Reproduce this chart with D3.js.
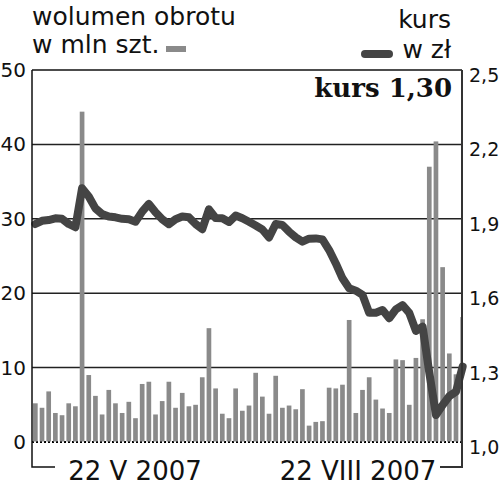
<!DOCTYPE html>
<html><head><meta charset="utf-8">
<script src="https://cdn.jsdelivr.net/npm/d3@7"></script>
<style>html,body{margin:0;padding:0;background:#fff}svg{display:block}</style>
</head><body>
<svg id="c" width="500" height="487"></svg>
<script>
// trading days 22 V 2007 – 22 VIII 2007
const days = [
 "2007-05-22","2007-05-23","2007-05-24","2007-05-25","2007-05-28","2007-05-29","2007-05-30","2007-05-31",
 "2007-06-01","2007-06-04","2007-06-05","2007-06-06","2007-06-08","2007-06-11","2007-06-12","2007-06-13",
 "2007-06-14","2007-06-15","2007-06-18","2007-06-19","2007-06-20","2007-06-21","2007-06-22","2007-06-25",
 "2007-06-26","2007-06-27","2007-06-28","2007-06-29","2007-07-02","2007-07-03","2007-07-04","2007-07-05",
 "2007-07-06","2007-07-09","2007-07-10","2007-07-11","2007-07-12","2007-07-13","2007-07-16","2007-07-17",
 "2007-07-18","2007-07-19","2007-07-20","2007-07-23","2007-07-24","2007-07-25","2007-07-26","2007-07-27",
 "2007-07-30","2007-07-31","2007-08-01","2007-08-02","2007-08-03","2007-08-06","2007-08-07","2007-08-08",
 "2007-08-09","2007-08-10","2007-08-13","2007-08-14","2007-08-16","2007-08-17","2007-08-20","2007-08-21",
 "2007-08-22"];
// volume, mln shares
const volume = [
 5.2,4.6,6.8,3.9,3.6,5.2,4.8,44.4,9.0,6.2,3.7,7.0,5.2,3.9,5.4,3.2,
 7.8,8.1,3.7,5.5,8.1,4.6,6.6,4.8,5.0,8.7,15.3,7.2,3.8,3.2,7.2,4.2,
 4.9,9.3,6.1,3.8,8.9,4.6,4.9,4.4,7.1,2.2,2.7,2.8,7.3,7.2,7.7,16.4,
 3.9,7.0,8.7,5.7,4.5,3.9,11.1,11.0,5.0,11.3,16.5,37.0,40.4,23.5,11.9,9.1,
 16.8];
// price, zl
const price = [
 1.879,1.892,1.895,1.902,1.900,1.879,1.866,2.023,1.990,1.942,1.919,1.909,1.906,1.900,1.898,1.888,
 1.929,1.960,1.926,1.898,1.878,1.898,1.909,1.906,1.879,1.858,1.938,1.903,1.902,1.887,1.913,1.902,
 1.888,1.873,1.857,1.825,1.879,1.875,1.848,1.825,1.808,1.820,1.821,1.817,1.774,1.720,1.660,1.620,
 1.610,1.593,1.521,1.521,1.532,1.499,1.535,1.552,1.521,1.448,1.465,1.280,1.109,1.149,1.185,1.203,
 1.304];
const volTicks = [0,10,20,30,40,50];
const priceTicks = [1.0,1.3,1.6,1.9,2.2,2.5];
const dateLabels = ["22 V 2007","22 VIII 2007"];

const svg = d3.select("#c");
const L = 32, R = 462, T = 70, B = 442;
const font = "'DejaVu Sans', sans-serif";

const x = d3.scaleBand().domain(days).range([L, 466]).paddingInner(0.3).paddingOuter(0.15);
const yV = d3.scaleLinear().domain([0, 50]).range([B, T]);
const yP = d3.scaleLinear().domain([1.0, 2.5]).range([B, T]);

svg.append("defs").append("clipPath").attr("id","clip")
  .append("rect").attr("x", L).attr("y", 0).attr("width", R - L).attr("height", B + 2);

// gridlines
svg.append("g").selectAll("line").data(volTicks.slice(1, -1)).join("line")
  .attr("x1", L).attr("x2", R).attr("y1", d => yV(d)).attr("y2", d => yV(d))
  .attr("stroke", "#222").attr("stroke-width", 1.5);

// baseline
svg.append("line").attr("x1", L).attr("x2", R).attr("y1", B).attr("y2", B)
  .attr("stroke", "#000").attr("stroke-width", 2).attr("stroke-dasharray", "2,2");

// bars
svg.append("g").attr("clip-path", "url(#clip)").selectAll("rect").data(volume).join("rect")
  .attr("x", (d, i) => x(days[i])).attr("width", x.bandwidth())
  .attr("y", d => yV(d)).attr("height", d => B - yV(d) - 0.5)
  .attr("fill", "#8a8a8a");

// price line
const line = d3.line().x((d, i) => x(days[i]) + x.bandwidth() / 2).y(d => yP(d));
svg.append("path").datum(price).attr("d", line)
  .attr("fill", "none").attr("stroke", "#444").attr("stroke-width", 8)
  .attr("stroke-linejoin", "round").attr("stroke-linecap", "round");

// frame
svg.append("line").attr("x1", L).attr("x2", R).attr("y1", T).attr("y2", T).attr("stroke", "#111").attr("stroke-width", 1.5);
svg.append("path").attr("d", `M${L},${T}V467H55`).attr("fill", "none").attr("stroke", "#111").attr("stroke-width", 1.5);
svg.append("path").attr("d", `M${R},${T}V467H440`).attr("fill", "none").attr("stroke", "#333").attr("stroke-width", 2);

// axes
const axL = d3.axisLeft(yV).tickValues(volTicks).tickSize(0).tickPadding(6).tickFormat(d3.format("d"));
const gL = svg.append("g").attr("transform", `translate(${L},0)`).call(axL);
gL.select(".domain").remove();
gL.selectAll("text").attr("font-family", font).attr("font-size", 20).attr("fill", "#111");

const axR = d3.axisRight(yP).tickValues(priceTicks).tickSize(0).tickPadding(7)
  .tickFormat(d => d3.format(".1f")(d).replace(".", ","));
const gR = svg.append("g").attr("transform", `translate(${R},0)`).call(axR);
gR.select(".domain").remove();
gR.selectAll("text").attr("font-family", font).attr("font-size", 19).attr("fill", "#111").attr("dy", "0.6em");

// date labels
svg.append("text").attr("x", 135).attr("y", 480).attr("text-anchor", "middle")
  .attr("font-family", font).attr("font-size", 26).attr("fill", "#111").text(dateLabels[0]);
svg.append("text").attr("x", 358).attr("y", 480).attr("text-anchor", "middle")
  .attr("font-family", font).attr("font-size", 26).attr("fill", "#111").text(dateLabels[1]);

// legend
const leg = svg.append("g").attr("font-family", font).attr("font-size", 25).attr("fill", "#111");
leg.append("text").attr("x", 32).attr("y", 25).text("wolumen obrotu");
leg.append("text").attr("x", 32).attr("y", 53).text("w mln szt.");
leg.append("rect").attr("x", 166).attr("y", 46).attr("width", 20).attr("height", 6).attr("fill", "#8a8a8a");
leg.append("text").attr("x", 451).attr("y", 28).attr("text-anchor", "end").text("kurs");
leg.append("text").attr("x", 451).attr("y", 58).attr("text-anchor", "end").text("w zł");
leg.append("line").attr("x1", 365).attr("x2", 389).attr("y1", 54).attr("y2", 54)
  .attr("stroke", "#444").attr("stroke-width", 8).attr("stroke-linecap", "round");

svg.append("text").attr("x", 452).attr("y", 97).attr("text-anchor", "end")
  .attr("font-family", "'DejaVu Serif', serif").attr("font-weight", "bold").attr("font-size", 26)
  .attr("fill", "#111").text("kurs " + d3.format(".2f")(price[price.length - 1]).replace(".", ","));
</script>
</body></html>
